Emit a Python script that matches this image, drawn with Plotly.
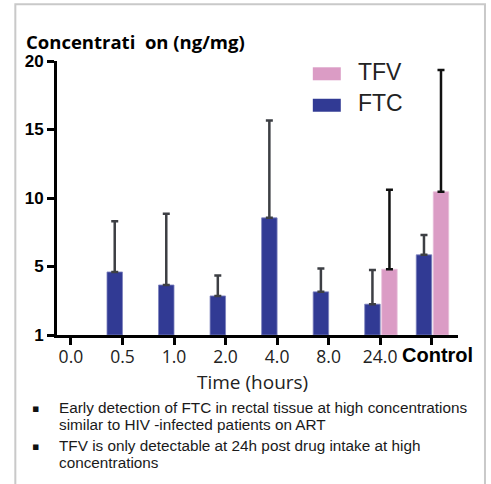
import plotly.graph_objects as go

categories = ["0.0", "0.5", "1.0", "2.0", "4.0", "8.0", "24.0", "Control"]
ftc_values = [None, 4.6, 3.65, 2.85, 8.55, 3.15, 2.25, 5.85]
ftc_err = [None, 3.7, 5.2, 1.5, 7.1, 1.7, 2.5, 1.45]
tfv_values = [None, None, None, None, None, None, 4.8, 10.45]
tfv_err = [None, None, None, None, None, None, 5.8, 8.9]
y_tickvals = [0, 5, 10, 15, 20]
y_ticktext = ["1", "5", "10", "15", "20"]

x_idx = list(range(len(categories)))
tick_labels = categories[:-1] + [""]

# pixel helpers -> paper coords
L, R, T, B = 56.7, 458.0, 60.7, 335.0
def px(x):
    return (x - L) / (R - L)
def py(y):
    return (B - y) / (B - T)

fig = go.Figure()
fig.add_trace(go.Bar(
    x=x_idx, y=ftc_values, name="FTC", width=0.3, offset=-0.3,
    marker=dict(color="#313a94", line=dict(color="#7c82bd", width=0.8)),
    error_y=dict(type="data", symmetric=False, array=ftc_err, arrayminus=[0]*len(ftc_err),
                 color="#3d3f44", thickness=2.5, width=3.5),
    showlegend=False,
))
fig.add_trace(go.Bar(
    x=x_idx, y=tfv_values, name="TFV", width=0.3, offset=0.03,
    marker=dict(color="#db9cc5", line=dict(color="#e8c0da", width=0.8)),
    error_y=dict(type="data", symmetric=False, array=tfv_err, arrayminus=[0]*len(tfv_err),
                 color="#111111", thickness=2.5, width=3.5),
    showlegend=False,
))

shapes = [
    dict(type="rect", xref="paper", yref="paper", x0=px(15), x1=px(485), y0=py(4), y1=py(500),
         line=dict(color="#c9c9c9", width=2), fillcolor="rgba(0,0,0,0)", layer="below"),
    dict(type="rect", xref="paper", yref="paper", x0=px(312.7), x1=px(340.7), y0=py(80), y1=py(67),
         line=dict(width=0), fillcolor="#db9cc5"),
    dict(type="rect", xref="paper", yref="paper", x0=px(312.7), x1=px(340.7), y0=py(111.5), y1=py(98.5),
         line=dict(width=0), fillcolor="#313a94"),
]

annotations = [
    dict(text="<b>Concentrati  on (ng/mg)</b>", x=px(24), y=py(41), xref="paper", yref="paper",
         xanchor="left", yanchor="middle", showarrow=False,
         font=dict(family="Open Sans", size=18.5, color="#000")),
    dict(text="TFV", x=px(356), y=py(71.5), xref="paper", yref="paper", xanchor="left", yanchor="middle",
         showarrow=False, font=dict(family="Liberation Sans", size=23, color="#222")),
    dict(text="FTC", x=px(356), y=py(102.5), xref="paper", yref="paper", xanchor="left", yanchor="middle",
         showarrow=False, font=dict(family="Liberation Sans", size=23, color="#222")),
    dict(text="<b>" + categories[-1] + "</b>", x=px(437.5), y=py(355), xref="paper", yref="paper",
         xanchor="center", yanchor="middle", showarrow=False,
         font=dict(family="Liberation Sans", size=20, color="#000")),
    dict(text="Time (hours)", x=px(252.5), y=py(382), xref="paper", yref="paper",
         xanchor="center", yanchor="middle", showarrow=False,
         font=dict(family="Open Sans", size=19, color="#222")),
]

lines = [
    ("Early detection of FTC in rectal tissue at high concentrations", 408, True),
    ("similar to HIV -infected patients on ART", 425, False),
    ("TFV is only detectable at 24h post drug intake at high", 446, True),
    ("concentrations", 463, False),
]
for txt, yy, bullet in lines:
    annotations.append(dict(text=txt, x=px(56.5), y=py(yy), xref="paper", yref="paper",
                            xanchor="left", yanchor="middle", showarrow=False,
                            font=dict(family="Liberation Sans", size=15.3, color="#1a1a1a")))
    if bullet:
        annotations.append(dict(text="▪", x=px(35.5), y=py(yy + 1), xref="paper", yref="paper",
                                xanchor="center", yanchor="middle", showarrow=False,
                                font=dict(family="DejaVu Sans", size=11, color="#111")))

fig.update_layout(
    width=491, height=484,
    margin=dict(l=L, r=491 - R, t=T, b=484 - B, pad=0),
    paper_bgcolor="white", plot_bgcolor="white",
    barmode="overlay",
    shapes=shapes, annotations=annotations,
    xaxis=dict(
        range=[-0.27, 7.51], tickmode="array", tickvals=x_idx, ticktext=tick_labels,
        tickangle=0, ticklabelstandoff=-3,
        showline=True, linecolor="#000", linewidth=3, ticks="outside", ticklen=7,
        tickwidth=2.5, tickcolor="#000", showgrid=False, zeroline=False,
        tickfont=dict(family="Open Sans", size=17.5, color="#222"),
    ),
    yaxis=dict(
        range=[0, 20], tickmode="array", tickvals=y_tickvals, ticktext=y_ticktext,
        showline=True, linecolor="#000", linewidth=3, ticks="outside", ticklen=7,
        tickwidth=2.5, tickcolor="#000", showgrid=False, zeroline=False,
        tickfont=dict(family="Liberation Sans", size=17, color="#000", weight="bold"),
    ),
)

fig.write_html("out.html")
